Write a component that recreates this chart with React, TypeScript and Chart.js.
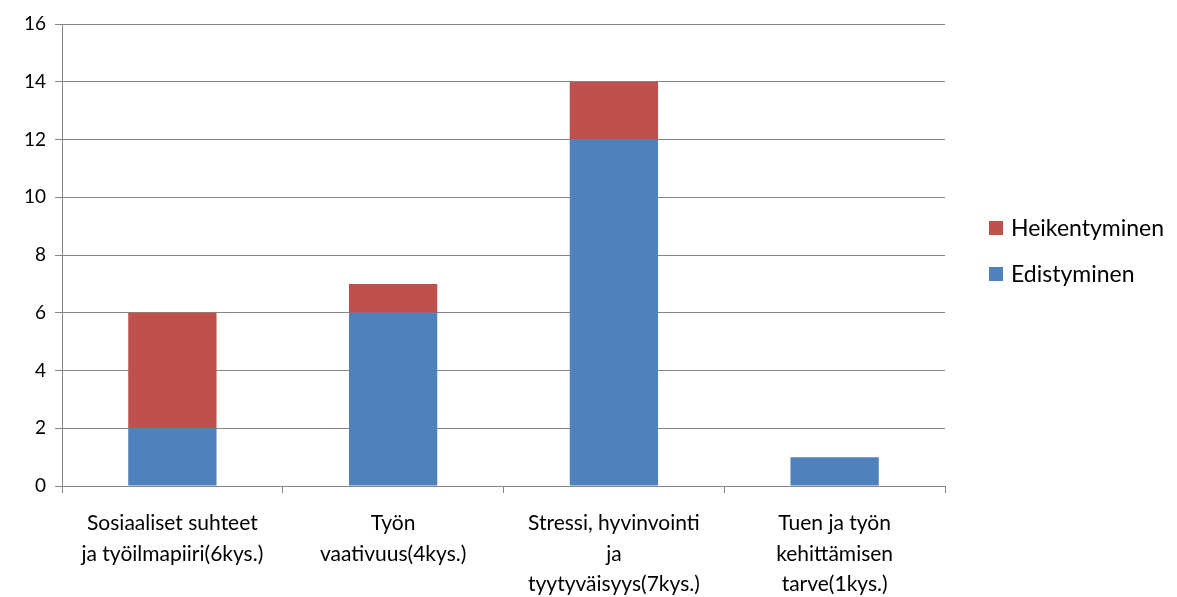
import React, { useEffect, useRef } from "react";
import { Chart, registerables } from "chart.js";

Chart.register(...registerables);

const categories: string[][] = [
  ["Sosiaaliset suhteet", "ja työilmapiiri(6kys.)"],
  ["Työn", "vaativuus(4kys.)"],
  ["Stressi, hyvinvointi", "ja", "tyytyväisyys(7kys.)"],
  ["Tuen ja työn", "kehittämisen", "tarve(1kys.)"],
];
const edistyminen = [2, 6, 12, 1];
const heikentyminen = [4, 1, 2, 0];
const seriesNames = ["Edistyminen", "Heikentyminen"];
const seriesColors = ["#4F81BD", "#C0504D"];

const FONT = "Lato, 'Open Sans', sans-serif";
const GRID = "#868686";

const legendPlugin = {
  id: "sideLegend",
  afterDraw(chart: any) {
    const ctx = chart.ctx;
    const area = chart.chartArea;
    const x = area.right + 44;
    const ys = [228, 274];
    const order = [1, 0];
    ctx.save();
    ctx.font = `23px ${FONT}`;
    ctx.textBaseline = "middle";
    ctx.textAlign = "left";
    order.forEach((di, i) => {
      const ds = chart.data.datasets[di];
      ctx.fillStyle = ds.backgroundColor;
      ctx.fillRect(x, ys[i] - 7, 14, 14);
      ctx.fillStyle = "#000";
      ctx.fillText(ds.label, x + 22, ys[i] + 1);
    });
    ctx.restore();
  },
};

export default function App() {
  const ref = useRef<HTMLCanvasElement | null>(null);
  useEffect(() => {
    if (!ref.current) return;
    const chart = new Chart(ref.current, {
      type: "bar",
      data: {
        labels: categories as any,
        datasets: [
          {
            label: seriesNames[0],
            data: edistyminen,
            backgroundColor: seriesColors[0],
            categoryPercentage: 1,
            barPercentage: 0.4,
          },
          {
            label: seriesNames[1],
            data: heikentyminen,
            backgroundColor: seriesColors[1],
            categoryPercentage: 1,
            barPercentage: 0.4,
          },
        ],
      },
      options: {
        animation: false,
        responsive: false,
        maintainAspectRatio: false,
        layout: { padding: { top: 24, right: 232, left: 0, bottom: 0 } },
        plugins: {
          legend: { display: false },
          tooltip: { enabled: false },
          title: { display: false },
        },
        scales: {
          x: {
            stacked: true,
            grid: {
              display: true,
              drawOnChartArea: false,
              drawTicks: true,
              tickLength: 7,
              color: GRID,
              offset: true,
            },
            border: { color: GRID, width: 1 },
            ticks: {
              color: "#000",
              font: { family: FONT, size: 21, lineHeight: 1.46 },
              padding: 15,
              maxRotation: 0,
              autoSkip: false,
            },
            afterFit(scale: any) {
              scale.height = 111;
            },
          },
          y: {
            stacked: true,
            min: 0,
            max: 16,
            ticks: {
              stepSize: 2,
              color: "#000",
              font: { family: FONT, size: 19 },
              padding: 9,
            },
            grid: { color: GRID, tickLength: 7, lineWidth: 1 },
            border: { color: GRID, width: 1 },
            afterFit(scale: any) {
              scale.width = 62;
            },
          },
        },
      },
      plugins: [legendPlugin],
    });
    return () => chart.destroy();
  }, []);
  return (
    <div style={{ position: "fixed", left: 0, top: 0, width: 1177, height: 597, background: "#fff" }}>
      <canvas ref={ref} width={1177} height={597} style={{ display: "block" }} />
    </div>
  );
}
